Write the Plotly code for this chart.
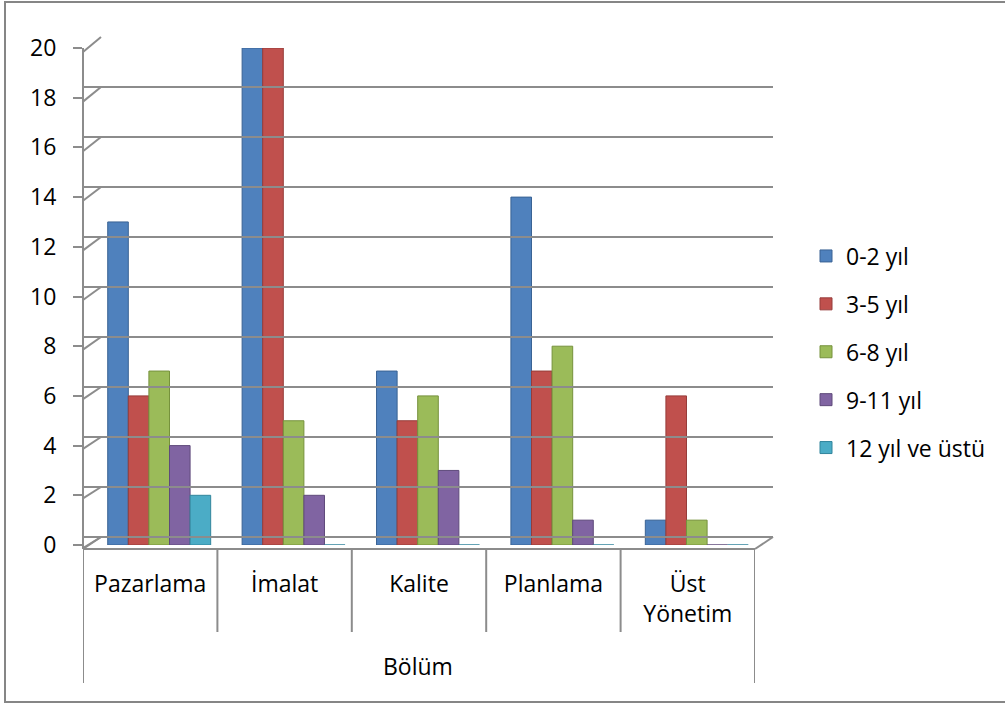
import plotly.graph_objects as go

# Survey data: years of experience by department ("Bölüm")
categories = ["Pazarlama", "İmalat", "Kalite", "Planlama", "Üst<br>Yönetim"]
series_names = ["0-2 yıl", "3-5 yıl", "6-8 yıl", "9-11 yıl", "12 yıl ve üstü"]
vals_0_2 = [13, 20, 7, 14, 1]
vals_3_5 = [6, 20, 5, 7, 6]
vals_6_8 = [7, 5, 6, 8, 1]
vals_9_11 = [4, 2, 3, 1, 0]
vals_12_plus = [2, 0, 0, 0, 0]
series_values = [vals_0_2, vals_3_5, vals_6_8, vals_9_11, vals_12_plus]
colors = ["#4f81bd", "#c0504d", "#9bbb59", "#8064a2", "#4bacc6"]
edge_colors = ["#3a6394", "#963c3a", "#76923c", "#5f4a7b", "#31859c"]
y_ticks = list(range(0, 21, 2))

W, H = 1005, 704
FONT = "Open Sans"
FS = 23
GRID = "#8c8c8c"


def px(x):
    return x / W


def py(y):
    return 1 - y / H


# pixel layout of the pseudo-3D box
FRONT_L, FRONT_R = 83, 755          # front floor edge
BACK_L, BACK_R = 101, 773           # back wall
FRONT_Y0, FRONT_Y20 = 548, 52       # front axis: value 0 / 20
BACK_Y0, BACK_Y20 = 537, 37         # back wall: value 0 / 20
BAR_Y0, BAR_Y20 = 545, 48           # bar plane
BAR_SHIFT = 9

fig = go.Figure()

for name, vals, col, ecol in zip(series_names, series_values, colors, edge_colors):
    fig.add_trace(go.Bar(
        x=categories, y=vals, name=name, legendgroup=name,
        marker=dict(color=col, line=dict(color=ecol, width=1)),
        xaxis="x2", yaxis="y2",
    ))

# back wall grid subplot (no data)
fig.add_trace(go.Scatter(x=categories, y=[None] * len(categories), xaxis="x", yaxis="y",
                         showlegend=False, hoverinfo="skip"))
# category axis along the front floor edge
fig.add_trace(go.Scatter(x=categories, y=[None] * len(categories), xaxis="x3", yaxis="y",
                         showlegend=False, hoverinfo="skip"))

fig.update_layout(
    width=W, height=H,
    margin=dict(l=0, r=0, t=0, b=0, pad=0, autoexpand=False),
    paper_bgcolor="white", plot_bgcolor="rgba(0,0,0,0)",
    font=dict(family=FONT, size=FS, color="black"),
    barmode="group", bargap=0.234, bargroupgap=0,
    showlegend=True,
    legend=dict(x=px(806), y=py(352), xanchor="left", yanchor="middle",
                font=dict(family=FONT, size=FS, color="black"),
                tracegroupgap=15, bgcolor="rgba(0,0,0,0)"),
    # back wall gridlines
    xaxis=dict(domain=[px(BACK_L), px(BACK_R)], anchor="y", visible=False, showgrid=False,
               range=[-0.5, 4.5], automargin=False),
    yaxis=dict(domain=[py(BACK_Y0), py(BACK_Y20)], anchor="x", range=[0, 20],
               tickvals=y_ticks, showgrid=True, gridcolor=GRID, gridwidth=2,
               zeroline=True, zerolinecolor=GRID, zerolinewidth=2,
               showticklabels=False, ticks="", showline=False, automargin=False),
    # bars
    xaxis2=dict(domain=[px(FRONT_L + BAR_SHIFT), px(FRONT_R + BAR_SHIFT)], anchor="y2",
                showgrid=False, showticklabels=False, ticks="", showline=False,
                automargin=False),
    yaxis2=dict(domain=[py(BAR_Y0), py(BAR_Y20)], anchor="free", position=px(FRONT_L),
                range=[0, 20], tickvals=y_ticks, showgrid=False, zeroline=False,
                showline=True, linecolor=GRID, linewidth=2,
                ticks="outside", ticklen=9, tickcolor=GRID, tickwidth=2,
                ticklabelstandoff=12, automargin=False,
                tickfont=dict(family=FONT, size=FS, color="black")),
    # category labels
    xaxis3=dict(domain=[px(FRONT_L), px(FRONT_R)], anchor="free", position=py(549),
                showgrid=False, zeroline=False, showline=True, linecolor=GRID, linewidth=2,
                ticks="", ticklabelstandoff=14, range=[-0.5, 4.5], automargin=False,
                tickfont=dict(family=FONT, size=FS, color="black")),
)

shapes = []
line = dict(color=GRID, width=2)
# side wall diagonals at each tick
for v in y_ticks:
    yf = FRONT_Y0 + (FRONT_Y20 - FRONT_Y0) * v / 20
    yb = BACK_Y0 + (BACK_Y20 - BACK_Y0) * v / 20
    shapes.append(dict(type="line", xref="paper", yref="paper",
                       x0=px(FRONT_L), y0=py(yf), x1=px(BACK_L), y1=py(yb), line=line))
# floor: left and right diagonals
shapes.append(dict(type="line", xref="paper", yref="paper",
                   x0=px(FRONT_L), y0=py(549), x1=px(BACK_L), y1=py(BACK_Y0), line=line))
shapes.append(dict(type="line", xref="paper", yref="paper",
                   x0=px(FRONT_R), y0=py(549), x1=px(BACK_R), y1=py(BACK_Y0), line=line))
# category dividers; outer ones extend to enclose the axis title
n = len(categories)
for i in range(n + 1):
    bottom = 683 if i in (0, n) else 632
    shapes.append(dict(type="line", xref="x3", yref="paper",
                       x0=i - 0.5, x1=i - 0.5, y0=py(549), y1=py(bottom), line=line))
# front axis line continuation
shapes.append(dict(type="line", xref="paper", yref="paper",
                   x0=px(FRONT_L), x1=px(FRONT_L), y0=py(FRONT_Y20), y1=py(549), line=line))
# chart border
shapes.append(dict(type="rect", xref="paper", yref="paper",
                   x0=px(5), y0=py(702), x1=px(1012), y1=py(2),
                   line=dict(color="#868686", width=2), fillcolor="rgba(0,0,0,0)",
                   layer="below"))
fig.update_layout(shapes=shapes)

fig.add_annotation(text="Bölüm", x=px(418), y=py(666), xref="paper", yref="paper",
                   showarrow=False, font=dict(family=FONT, size=FS, color="black"),
                   xanchor="center", yanchor="middle")

fig.write_html("out.html")
